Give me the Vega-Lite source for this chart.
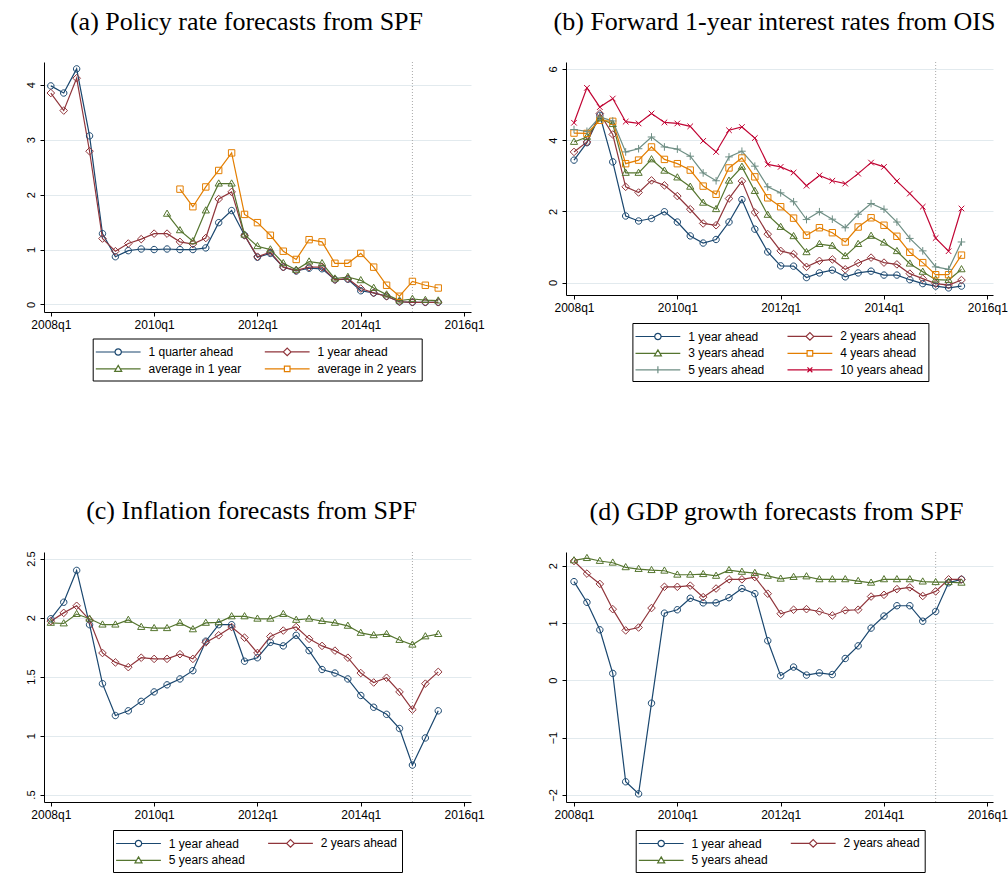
{
"$schema": "https://vega.github.io/schema/vega-lite/v6.json",
"background": "white",
"padding": {"left": 25, "top": 8, "right": 0, "bottom": 0},
"columns": 2,
"spacing": {"row": 240, "column": 95},
"bounds": "flush",
"resolve": {"scale": {"color": "independent"}},
"concat": [
{
"title": {"text": "(a) Policy rate forecasts from SPF", "dx": -11},
"width": 427, "height": 250,
"layer": [
{"data": {"values": [{"t": 2015}]}, "mark": {"type": "rule", "color": "#aaaaaa", "strokeDash": [1, 2], "strokeWidth": 1},
 "encoding": {"x": {"field": "t", "type": "quantitative"}}},
{"data": {"name": "a"}, "mark": {"type": "line", "strokeWidth": 1.2},
 "encoding": {
  "x": {"field": "t", "type": "quantitative", "scale": {"domain": [2007.868, 2016.134], "nice": false, "zero": false}, "axis": {"title": null, "values": [2008, 2010, 2012, 2014, 2016], "labelExpr": "datum.value + 'q1'"}},
  "y": {"field": "v", "type": "quantitative", "scale": {"domain": [-0.137, 4.415], "nice": false, "zero": false}, "axis": {"title": null, "values": [0, 1, 2, 3, 4], "format": "~g"}},
  "color": {"field": "s", "type": "nominal", "scale": {"domain": ["1 quarter ahead", "1 year ahead", "average in 1 year", "average in 2 years"], "range": ["#1a476f", "#90353b", "#55752f", "#e37e00"]},
   "legend": {"title": null, "orient": "none", "legendX": 48.7, "legendY": 276.5, "direction": "horizontal", "columns": 2,
    "encode": {"symbols": {"update": {"shape": {"signal": "['M-3.2,0L-0.45,0M0.45,0L3.2,0M0.45,0A0.45,0.45,0,1,1,-0.45,0A0.45,0.45,0,1,1,0.45,0','M-3.2,0L-0.55,0M0.55,0L3.2,0M-0.55,0L0,-0.55L0.55,0L0,0.55Z','M-3.2,0L-0.3,0M0.3,0L3.2,0M0,-0.5L0.5,0.35L-0.5,0.35Z','M-3.2,0L-0.4,0M0.4,0L3.2,0M-0.4,-0.4L0.4,-0.4L0.4,0.4L-0.4,0.4Z','M-3.2,0L3.2,0M0,-0.5L0,0.5','M-3.2,0L3.2,0M-0.35,-0.35L0.35,0.35M-0.35,0.35L0.35,-0.35'][datum.index]"}, "fill": {"value": "transparent"}}}}}}
 }},
{"data": {"name": "a"}, "transform": [{"filter": {"field": "s", "equal": "1 quarter ahead"}}], "mark": {"type": "point", "shape": "M0.8,0A0.8,0.8,0,1,1,-0.8,0A0.8,0.8,0,1,1,0.8,0Z", "filled": false, "size": 64, "strokeWidth": 1, "opacity": 1},
 "encoding": {"x": {"field": "t", "type": "quantitative"}, "y": {"field": "v", "type": "quantitative"}, "color": {"field": "s", "type": "nominal"}}},
{"data": {"name": "a"}, "transform": [{"filter": {"field": "s", "equal": "1 year ahead"}}], "mark": {"type": "point", "shape": "M0,-0.95L0.95,0L0,0.95L-0.95,0Z", "filled": false, "size": 64, "strokeWidth": 1, "opacity": 1},
 "encoding": {"x": {"field": "t", "type": "quantitative"}, "y": {"field": "v", "type": "quantitative"}, "color": {"field": "s", "type": "nominal"}}},
{"data": {"name": "a"}, "transform": [{"filter": {"field": "s", "equal": "average in 1 year"}}], "mark": {"type": "point", "shape": "M0,-0.95L0.9,0.6L-0.9,0.6Z", "filled": false, "size": 64, "strokeWidth": 1, "opacity": 1},
 "encoding": {"x": {"field": "t", "type": "quantitative"}, "y": {"field": "v", "type": "quantitative"}, "color": {"field": "s", "type": "nominal"}}},
{"data": {"name": "a"}, "transform": [{"filter": {"field": "s", "equal": "average in 2 years"}}], "mark": {"type": "point", "shape": "M-0.8,-0.8L0.8,-0.8L0.8,0.8L-0.8,0.8Z", "filled": false, "size": 64, "strokeWidth": 1, "opacity": 1},
 "encoding": {"x": {"field": "t", "type": "quantitative"}, "y": {"field": "v", "type": "quantitative"}, "color": {"field": "s", "type": "nominal"}}}
]
},
{
"title": {"text": "(b) Forward 1-year interest rates from OIS", "dx": -5},
"width": 427, "height": 233,
"layer": [
{"data": {"values": [{"t": 2015}]}, "mark": {"type": "rule", "color": "#aaaaaa", "strokeDash": [1, 2], "strokeWidth": 1},
 "encoding": {"x": {"field": "t", "type": "quantitative"}}},
{"data": {"name": "b"}, "mark": {"type": "line", "strokeWidth": 1.2},
 "encoding": {
  "x": {"field": "t", "type": "quantitative", "scale": {"domain": [2007.845, 2016.11], "nice": false, "zero": false}, "axis": {"title": null, "values": [2008, 2010, 2012, 2014, 2016], "labelExpr": "datum.value + 'q1'"}},
  "y": {"field": "v", "type": "quantitative", "scale": {"domain": [-0.35, 6.197], "nice": false, "zero": false}, "axis": {"title": null, "values": [0, 2, 4, 6], "format": "~g"}},
  "color": {"field": "s", "type": "nominal", "scale": {"domain": ["1 year ahead", "2 years ahead", "3 years ahead", "4 years ahead", "5 years ahead", "10 years ahead"], "range": ["#1a476f", "#90353b", "#55752f", "#e37e00", "#6e8e84", "#c10534"]},
   "legend": {"title": null, "orient": "none", "legendX": 66.4, "legendY": 261, "direction": "horizontal", "columns": 2,
    "encode": {"symbols": {"update": {"shape": {"signal": "['M-3.2,0L-0.45,0M0.45,0L3.2,0M0.45,0A0.45,0.45,0,1,1,-0.45,0A0.45,0.45,0,1,1,0.45,0','M-3.2,0L-0.55,0M0.55,0L3.2,0M-0.55,0L0,-0.55L0.55,0L0,0.55Z','M-3.2,0L-0.3,0M0.3,0L3.2,0M0,-0.5L0.5,0.35L-0.5,0.35Z','M-3.2,0L-0.4,0M0.4,0L3.2,0M-0.4,-0.4L0.4,-0.4L0.4,0.4L-0.4,0.4Z','M-3.2,0L3.2,0M0,-0.5L0,0.5','M-3.2,0L3.2,0M-0.35,-0.35L0.35,0.35M-0.35,0.35L0.35,-0.35'][datum.index]"}, "fill": {"value": "transparent"}}}}}}
 }},
{"data": {"name": "b"}, "transform": [{"filter": {"field": "s", "equal": "1 year ahead"}}], "mark": {"type": "point", "shape": "M0.8,0A0.8,0.8,0,1,1,-0.8,0A0.8,0.8,0,1,1,0.8,0Z", "filled": false, "size": 64, "strokeWidth": 1, "opacity": 1},
 "encoding": {"x": {"field": "t", "type": "quantitative"}, "y": {"field": "v", "type": "quantitative"}, "color": {"field": "s", "type": "nominal"}}},
{"data": {"name": "b"}, "transform": [{"filter": {"field": "s", "equal": "2 years ahead"}}], "mark": {"type": "point", "shape": "M0,-0.95L0.95,0L0,0.95L-0.95,0Z", "filled": false, "size": 64, "strokeWidth": 1, "opacity": 1},
 "encoding": {"x": {"field": "t", "type": "quantitative"}, "y": {"field": "v", "type": "quantitative"}, "color": {"field": "s", "type": "nominal"}}},
{"data": {"name": "b"}, "transform": [{"filter": {"field": "s", "equal": "3 years ahead"}}], "mark": {"type": "point", "shape": "M0,-0.95L0.9,0.6L-0.9,0.6Z", "filled": false, "size": 64, "strokeWidth": 1, "opacity": 1},
 "encoding": {"x": {"field": "t", "type": "quantitative"}, "y": {"field": "v", "type": "quantitative"}, "color": {"field": "s", "type": "nominal"}}},
{"data": {"name": "b"}, "transform": [{"filter": {"field": "s", "equal": "4 years ahead"}}], "mark": {"type": "point", "shape": "M-0.8,-0.8L0.8,-0.8L0.8,0.8L-0.8,0.8Z", "filled": false, "size": 64, "strokeWidth": 1, "opacity": 1},
 "encoding": {"x": {"field": "t", "type": "quantitative"}, "y": {"field": "v", "type": "quantitative"}, "color": {"field": "s", "type": "nominal"}}},
{"data": {"name": "b"}, "transform": [{"filter": {"field": "s", "equal": "5 years ahead"}}], "mark": {"type": "point", "shape": "M-0.95,0L0.95,0M0,-0.95L0,0.95", "filled": false, "size": 64, "strokeWidth": 1, "opacity": 1},
 "encoding": {"x": {"field": "t", "type": "quantitative"}, "y": {"field": "v", "type": "quantitative"}, "color": {"field": "s", "type": "nominal"}}},
{"data": {"name": "b"}, "transform": [{"filter": {"field": "s", "equal": "10 years ahead"}}], "mark": {"type": "point", "shape": "M-0.7,-0.7L0.7,0.7M-0.7,0.7L0.7,-0.7", "filled": false, "size": 64, "strokeWidth": 1, "opacity": 1},
 "encoding": {"x": {"field": "t", "type": "quantitative"}, "y": {"field": "v", "type": "quantitative"}, "color": {"field": "s", "type": "nominal"}}}
]
},
{
"title": {"text": "(c) Inflation forecasts from SPF", "dx": -6},
"width": 427, "height": 250,
"layer": [
{"data": {"values": [{"t": 2015}]}, "mark": {"type": "rule", "color": "#aaaaaa", "strokeDash": [1, 2], "strokeWidth": 1},
 "encoding": {"x": {"field": "t", "type": "quantitative"}}},
{"data": {"name": "c"}, "mark": {"type": "line", "strokeWidth": 1.2},
 "encoding": {
  "x": {"field": "t", "type": "quantitative", "scale": {"domain": [2007.868, 2016.134], "nice": false, "zero": false}, "axis": {"title": null, "values": [2008, 2010, 2012, 2014, 2016], "labelExpr": "datum.value + 'q1'"}},
  "y": {"field": "v", "type": "quantitative", "scale": {"domain": [0.437, 2.556], "nice": false, "zero": false}, "axis": {"title": null, "values": [0.5, 1, 1.5, 2, 2.5], "format": "~g", "labelExpr": "datum.value == 0.5 ? '.5' : datum.label"}},
  "color": {"field": "s", "type": "nominal", "scale": {"domain": ["1 year ahead", "2 years ahead", "5 years ahead"], "range": ["#1a476f", "#90353b", "#55752f"]},
   "legend": {"title": null, "orient": "none", "legendX": 69, "legendY": 278, "direction": "horizontal", "columns": 2,
    "encode": {"symbols": {"update": {"shape": {"signal": "['M-3.2,0L-0.45,0M0.45,0L3.2,0M0.45,0A0.45,0.45,0,1,1,-0.45,0A0.45,0.45,0,1,1,0.45,0','M-3.2,0L-0.55,0M0.55,0L3.2,0M-0.55,0L0,-0.55L0.55,0L0,0.55Z','M-3.2,0L-0.3,0M0.3,0L3.2,0M0,-0.5L0.5,0.35L-0.5,0.35Z'][datum.index]"}, "fill": {"value": "transparent"}}}}}}
 }},
{"data": {"name": "c"}, "transform": [{"filter": {"field": "s", "equal": "1 year ahead"}}], "mark": {"type": "point", "shape": "M0.8,0A0.8,0.8,0,1,1,-0.8,0A0.8,0.8,0,1,1,0.8,0Z", "filled": false, "size": 64, "strokeWidth": 1, "opacity": 1},
 "encoding": {"x": {"field": "t", "type": "quantitative"}, "y": {"field": "v", "type": "quantitative"}, "color": {"field": "s", "type": "nominal"}}},
{"data": {"name": "c"}, "transform": [{"filter": {"field": "s", "equal": "2 years ahead"}}], "mark": {"type": "point", "shape": "M0,-0.95L0.95,0L0,0.95L-0.95,0Z", "filled": false, "size": 64, "strokeWidth": 1, "opacity": 1},
 "encoding": {"x": {"field": "t", "type": "quantitative"}, "y": {"field": "v", "type": "quantitative"}, "color": {"field": "s", "type": "nominal"}}},
{"data": {"name": "c"}, "transform": [{"filter": {"field": "s", "equal": "5 years ahead"}}], "mark": {"type": "point", "shape": "M0,-0.95L0.9,0.6L-0.9,0.6Z", "filled": false, "size": 64, "strokeWidth": 1, "opacity": 1},
 "encoding": {"x": {"field": "t", "type": "quantitative"}, "y": {"field": "v", "type": "quantitative"}, "color": {"field": "s", "type": "nominal"}}}
]
},
{
"title": {"text": "(d) GDP growth forecasts from SPF", "dx": -3},
"width": 427, "height": 250,
"layer": [
{"data": {"values": [{"t": 2015}]}, "mark": {"type": "rule", "color": "#aaaaaa", "strokeDash": [1, 2], "strokeWidth": 1},
 "encoding": {"x": {"field": "t", "type": "quantitative"}}},
{"data": {"name": "d"}, "mark": {"type": "line", "strokeWidth": 1.2},
 "encoding": {
  "x": {"field": "t", "type": "quantitative", "scale": {"domain": [2007.845, 2016.11], "nice": false, "zero": false}, "axis": {"title": null, "values": [2008, 2010, 2012, 2014, 2016], "labelExpr": "datum.value + 'q1'"}},
  "y": {"field": "v", "type": "quantitative", "scale": {"domain": [-2.123, 2.237], "nice": false, "zero": false}, "axis": {"title": null, "values": [-2, -1, 0, 1, 2], "format": "~g"}},
  "color": {"field": "s", "type": "nominal", "scale": {"domain": ["1 year ahead", "2 years ahead", "5 years ahead"], "range": ["#1a476f", "#90353b", "#55752f"]},
   "legend": {"title": null, "orient": "none", "legendX": 69.7, "legendY": 278, "direction": "horizontal", "columns": 2,
    "encode": {"symbols": {"update": {"shape": {"signal": "['M-3.2,0L-0.45,0M0.45,0L3.2,0M0.45,0A0.45,0.45,0,1,1,-0.45,0A0.45,0.45,0,1,1,0.45,0','M-3.2,0L-0.55,0M0.55,0L3.2,0M-0.55,0L0,-0.55L0.55,0L0,0.55Z','M-3.2,0L-0.3,0M0.3,0L3.2,0M0,-0.5L0.5,0.35L-0.5,0.35Z'][datum.index]"}, "fill": {"value": "transparent"}}}}}}
 }},
{"data": {"name": "d"}, "transform": [{"filter": {"field": "s", "equal": "1 year ahead"}}], "mark": {"type": "point", "shape": "M0.8,0A0.8,0.8,0,1,1,-0.8,0A0.8,0.8,0,1,1,0.8,0Z", "filled": false, "size": 64, "strokeWidth": 1, "opacity": 1},
 "encoding": {"x": {"field": "t", "type": "quantitative"}, "y": {"field": "v", "type": "quantitative"}, "color": {"field": "s", "type": "nominal"}}},
{"data": {"name": "d"}, "transform": [{"filter": {"field": "s", "equal": "2 years ahead"}}], "mark": {"type": "point", "shape": "M0,-0.95L0.95,0L0,0.95L-0.95,0Z", "filled": false, "size": 64, "strokeWidth": 1, "opacity": 1},
 "encoding": {"x": {"field": "t", "type": "quantitative"}, "y": {"field": "v", "type": "quantitative"}, "color": {"field": "s", "type": "nominal"}}},
{"data": {"name": "d"}, "transform": [{"filter": {"field": "s", "equal": "5 years ahead"}}], "mark": {"type": "point", "shape": "M0,-0.95L0.9,0.6L-0.9,0.6Z", "filled": false, "size": 64, "strokeWidth": 1, "opacity": 1},
 "encoding": {"x": {"field": "t", "type": "quantitative"}, "y": {"field": "v", "type": "quantitative"}, "color": {"field": "s", "type": "nominal"}}}
]
}
],
"datasets": {
"a": [
{"t":2008,"s":"1 quarter ahead","v":3.98},{"t":2008.25,"s":"1 quarter ahead","v":3.85},{"t":2008.5,"s":"1 quarter ahead","v":4.29},{"t":2008.75,"s":"1 quarter ahead","v":3.07},
{"t":2009,"s":"1 quarter ahead","v":1.29},{"t":2009.25,"s":"1 quarter ahead","v":0.87},{"t":2009.5,"s":"1 quarter ahead","v":0.98},{"t":2009.75,"s":"1 quarter ahead","v":1.01},
{"t":2010,"s":"1 quarter ahead","v":1.00},{"t":2010.25,"s":"1 quarter ahead","v":1.01},{"t":2010.5,"s":"1 quarter ahead","v":1.00},{"t":2010.75,"s":"1 quarter ahead","v":1.00},
{"t":2011,"s":"1 quarter ahead","v":1.03},{"t":2011.25,"s":"1 quarter ahead","v":1.49},{"t":2011.5,"s":"1 quarter ahead","v":1.71},{"t":2011.75,"s":"1 quarter ahead","v":1.26},
{"t":2012,"s":"1 quarter ahead","v":0.86},{"t":2012.25,"s":"1 quarter ahead","v":0.93},{"t":2012.5,"s":"1 quarter ahead","v":0.68},{"t":2012.75,"s":"1 quarter ahead","v":0.61},
{"t":2013,"s":"1 quarter ahead","v":0.66},{"t":2013.25,"s":"1 quarter ahead","v":0.65},{"t":2013.5,"s":"1 quarter ahead","v":0.45},{"t":2013.75,"s":"1 quarter ahead","v":0.46},
{"t":2014,"s":"1 quarter ahead","v":0.25},{"t":2014.25,"s":"1 quarter ahead","v":0.21},{"t":2014.5,"s":"1 quarter ahead","v":0.15},{"t":2014.75,"s":"1 quarter ahead","v":0.05},
{"t":2015,"s":"1 quarter ahead","v":0.04},{"t":2015.25,"s":"1 quarter ahead","v":0.04},{"t":2015.5,"s":"1 quarter ahead","v":0.04},
{"t":2008,"s":"1 year ahead","v":3.85},{"t":2008.25,"s":"1 year ahead","v":3.53},{"t":2008.5,"s":"1 year ahead","v":4.12},{"t":2008.75,"s":"1 year ahead","v":2.79},
{"t":2009,"s":"1 year ahead","v":1.20},{"t":2009.25,"s":"1 year ahead","v":0.97},{"t":2009.5,"s":"1 year ahead","v":1.11},{"t":2009.75,"s":"1 year ahead","v":1.19},
{"t":2010,"s":"1 year ahead","v":1.29},{"t":2010.25,"s":"1 year ahead","v":1.29},{"t":2010.5,"s":"1 year ahead","v":1.14},{"t":2010.75,"s":"1 year ahead","v":1.10},
{"t":2011,"s":"1 year ahead","v":1.21},{"t":2011.25,"s":"1 year ahead","v":1.92},{"t":2011.5,"s":"1 year ahead","v":2.05},{"t":2011.75,"s":"1 year ahead","v":1.26},
{"t":2012,"s":"1 year ahead","v":0.87},{"t":2012.25,"s":"1 year ahead","v":0.95},{"t":2012.5,"s":"1 year ahead","v":0.68},{"t":2012.75,"s":"1 year ahead","v":0.62},
{"t":2013,"s":"1 year ahead","v":0.68},{"t":2013.25,"s":"1 year ahead","v":0.68},{"t":2013.5,"s":"1 year ahead","v":0.45},{"t":2013.75,"s":"1 year ahead","v":0.47},
{"t":2014,"s":"1 year ahead","v":0.29},{"t":2014.25,"s":"1 year ahead","v":0.21},{"t":2014.5,"s":"1 year ahead","v":0.15},{"t":2014.75,"s":"1 year ahead","v":0.05},
{"t":2015,"s":"1 year ahead","v":0.04},{"t":2015.25,"s":"1 year ahead","v":0.04},{"t":2015.5,"s":"1 year ahead","v":0.04},
{"t":2010.25,"s":"average in 1 year","v":1.65},{"t":2010.5,"s":"average in 1 year","v":1.35},{"t":2010.75,"s":"average in 1 year","v":1.15},
{"t":2011,"s":"average in 1 year","v":1.71},{"t":2011.25,"s":"average in 1 year","v":2.20},{"t":2011.5,"s":"average in 1 year","v":2.20},{"t":2011.75,"s":"average in 1 year","v":1.27},
{"t":2012,"s":"average in 1 year","v":1.06},{"t":2012.25,"s":"average in 1 year","v":1.00},{"t":2012.5,"s":"average in 1 year","v":0.75},{"t":2012.75,"s":"average in 1 year","v":0.63},
{"t":2013,"s":"average in 1 year","v":0.78},{"t":2013.25,"s":"average in 1 year","v":0.75},{"t":2013.5,"s":"average in 1 year","v":0.47},{"t":2013.75,"s":"average in 1 year","v":0.50},
{"t":2014,"s":"average in 1 year","v":0.44},{"t":2014.25,"s":"average in 1 year","v":0.30},{"t":2014.5,"s":"average in 1 year","v":0.18},{"t":2014.75,"s":"average in 1 year","v":0.07},
{"t":2015,"s":"average in 1 year","v":0.10},{"t":2015.25,"s":"average in 1 year","v":0.08},{"t":2015.5,"s":"average in 1 year","v":0.07},
{"t":2010.5,"s":"average in 2 years","v":2.10},{"t":2010.75,"s":"average in 2 years","v":1.78},
{"t":2011,"s":"average in 2 years","v":2.14},{"t":2011.25,"s":"average in 2 years","v":2.44},{"t":2011.5,"s":"average in 2 years","v":2.76},{"t":2011.75,"s":"average in 2 years","v":1.64},
{"t":2012,"s":"average in 2 years","v":1.49},{"t":2012.25,"s":"average in 2 years","v":1.26},{"t":2012.5,"s":"average in 2 years","v":0.97},{"t":2012.75,"s":"average in 2 years","v":0.82},
{"t":2013,"s":"average in 2 years","v":1.18},{"t":2013.25,"s":"average in 2 years","v":1.14},{"t":2013.5,"s":"average in 2 years","v":0.75},{"t":2013.75,"s":"average in 2 years","v":0.75},
{"t":2014,"s":"average in 2 years","v":0.93},{"t":2014.25,"s":"average in 2 years","v":0.68},{"t":2014.5,"s":"average in 2 years","v":0.35},{"t":2014.75,"s":"average in 2 years","v":0.15},
{"t":2015,"s":"average in 2 years","v":0.42},{"t":2015.25,"s":"average in 2 years","v":0.35},{"t":2015.5,"s":"average in 2 years","v":0.30}
],
"b": [
{"t":2008,"s":"1 year ahead","v":3.44},{"t":2008.25,"s":"1 year ahead","v":3.93},{"t":2008.5,"s":"1 year ahead","v":4.70},{"t":2008.75,"s":"1 year ahead","v":3.39},
{"t":2009,"s":"1 year ahead","v":1.87},{"t":2009.25,"s":"1 year ahead","v":1.73},{"t":2009.5,"s":"1 year ahead","v":1.80},{"t":2009.75,"s":"1 year ahead","v":1.99},
{"t":2010,"s":"1 year ahead","v":1.70},{"t":2010.25,"s":"1 year ahead","v":1.31},{"t":2010.5,"s":"1 year ahead","v":1.11},{"t":2010.75,"s":"1 year ahead","v":1.21},
{"t":2011,"s":"1 year ahead","v":1.70},{"t":2011.25,"s":"1 year ahead","v":2.33},{"t":2011.5,"s":"1 year ahead","v":1.50},{"t":2011.75,"s":"1 year ahead","v":0.86},
{"t":2012,"s":"1 year ahead","v":0.47},{"t":2012.25,"s":"1 year ahead","v":0.46},{"t":2012.5,"s":"1 year ahead","v":0.14},{"t":2012.75,"s":"1 year ahead","v":0.27},
{"t":2013,"s":"1 year ahead","v":0.35},{"t":2013.25,"s":"1 year ahead","v":0.16},{"t":2013.5,"s":"1 year ahead","v":0.27},{"t":2013.75,"s":"1 year ahead","v":0.32},
{"t":2014,"s":"1 year ahead","v":0.21},{"t":2014.25,"s":"1 year ahead","v":0.21},{"t":2014.5,"s":"1 year ahead","v":0.08},{"t":2014.75,"s":"1 year ahead","v":-0.03},
{"t":2015,"s":"1 year ahead","v":-0.10},{"t":2015.25,"s":"1 year ahead","v":-0.15},{"t":2015.5,"s":"1 year ahead","v":-0.10},
{"t":2008,"s":"2 years ahead","v":3.67},{"t":2008.25,"s":"2 years ahead","v":3.95},{"t":2008.5,"s":"2 years ahead","v":4.75},{"t":2008.75,"s":"2 years ahead","v":4.16},
{"t":2009,"s":"2 years ahead","v":2.69},{"t":2009.25,"s":"2 years ahead","v":2.53},{"t":2009.5,"s":"2 years ahead","v":2.87},{"t":2009.75,"s":"2 years ahead","v":2.73},
{"t":2010,"s":"2 years ahead","v":2.43},{"t":2010.25,"s":"2 years ahead","v":2.06},{"t":2010.5,"s":"2 years ahead","v":1.66},{"t":2010.75,"s":"2 years ahead","v":1.61},
{"t":2011,"s":"2 years ahead","v":2.36},{"t":2011.25,"s":"2 years ahead","v":2.85},{"t":2011.5,"s":"2 years ahead","v":1.97},{"t":2011.75,"s":"2 years ahead","v":1.36},
{"t":2012,"s":"2 years ahead","v":0.89},{"t":2012.25,"s":"2 years ahead","v":0.80},{"t":2012.5,"s":"2 years ahead","v":0.44},{"t":2012.75,"s":"2 years ahead","v":0.61},
{"t":2013,"s":"2 years ahead","v":0.65},{"t":2013.25,"s":"2 years ahead","v":0.37},{"t":2013.5,"s":"2 years ahead","v":0.55},{"t":2013.75,"s":"2 years ahead","v":0.70},
{"t":2014,"s":"2 years ahead","v":0.56},{"t":2014.25,"s":"2 years ahead","v":0.51},{"t":2014.5,"s":"2 years ahead","v":0.25},{"t":2014.75,"s":"2 years ahead","v":0.11},
{"t":2015,"s":"2 years ahead","v":-0.03},{"t":2015.25,"s":"2 years ahead","v":-0.07},{"t":2015.5,"s":"2 years ahead","v":0.07},
{"t":2008,"s":"3 years ahead","v":3.95},{"t":2008.25,"s":"3 years ahead","v":4.09},{"t":2008.5,"s":"3 years ahead","v":4.61},{"t":2008.75,"s":"3 years ahead","v":4.45},
{"t":2009,"s":"3 years ahead","v":3.08},{"t":2009.25,"s":"3 years ahead","v":3.08},{"t":2009.5,"s":"3 years ahead","v":3.46},{"t":2009.75,"s":"3 years ahead","v":3.14},
{"t":2010,"s":"3 years ahead","v":2.95},{"t":2010.25,"s":"3 years ahead","v":2.69},{"t":2010.5,"s":"3 years ahead","v":2.24},{"t":2010.75,"s":"3 years ahead","v":2.06},
{"t":2011,"s":"3 years ahead","v":2.86},{"t":2011.25,"s":"3 years ahead","v":3.25},{"t":2011.5,"s":"3 years ahead","v":2.57},{"t":2011.75,"s":"3 years ahead","v":1.90},
{"t":2012,"s":"3 years ahead","v":1.56},{"t":2012.25,"s":"3 years ahead","v":1.30},{"t":2012.5,"s":"3 years ahead","v":0.85},{"t":2012.75,"s":"3 years ahead","v":1.08},
{"t":2013,"s":"3 years ahead","v":1.03},{"t":2013.25,"s":"3 years ahead","v":0.74},{"t":2013.5,"s":"3 years ahead","v":1.08},{"t":2013.75,"s":"3 years ahead","v":1.31},
{"t":2014,"s":"3 years ahead","v":1.12},{"t":2014.25,"s":"3 years ahead","v":0.88},{"t":2014.5,"s":"3 years ahead","v":0.53},{"t":2014.75,"s":"3 years ahead","v":0.30},
{"t":2015,"s":"3 years ahead","v":0.08},{"t":2015.25,"s":"3 years ahead","v":0.07},{"t":2015.5,"s":"3 years ahead","v":0.37},
{"t":2008,"s":"4 years ahead","v":4.20},{"t":2008.25,"s":"4 years ahead","v":4.19},{"t":2008.5,"s":"4 years ahead","v":4.56},{"t":2008.75,"s":"4 years ahead","v":4.53},
{"t":2009,"s":"4 years ahead","v":3.34},{"t":2009.25,"s":"4 years ahead","v":3.44},{"t":2009.5,"s":"4 years ahead","v":3.81},{"t":2009.75,"s":"4 years ahead","v":3.46},
{"t":2010,"s":"4 years ahead","v":3.34},{"t":2010.25,"s":"4 years ahead","v":3.16},{"t":2010.5,"s":"4 years ahead","v":2.71},{"t":2010.75,"s":"4 years ahead","v":2.48},
{"t":2011,"s":"4 years ahead","v":3.22},{"t":2011.25,"s":"4 years ahead","v":3.50},{"t":2011.5,"s":"4 years ahead","v":2.97},{"t":2011.75,"s":"4 years ahead","v":2.38},
{"t":2012,"s":"4 years ahead","v":2.13},{"t":2012.25,"s":"4 years ahead","v":1.81},{"t":2012.5,"s":"4 years ahead","v":1.33},{"t":2012.75,"s":"4 years ahead","v":1.54},
{"t":2013,"s":"4 years ahead","v":1.40},{"t":2013.25,"s":"4 years ahead","v":1.14},{"t":2013.5,"s":"4 years ahead","v":1.56},{"t":2013.75,"s":"4 years ahead","v":1.82},
{"t":2014,"s":"4 years ahead","v":1.61},{"t":2014.25,"s":"4 years ahead","v":1.30},{"t":2014.5,"s":"4 years ahead","v":0.85},{"t":2014.75,"s":"4 years ahead","v":0.56},
{"t":2015,"s":"4 years ahead","v":0.22},{"t":2015.25,"s":"4 years ahead","v":0.22},{"t":2015.5,"s":"4 years ahead","v":0.77},
{"t":2008,"s":"5 years ahead","v":4.30},{"t":2008.25,"s":"5 years ahead","v":4.25},{"t":2008.5,"s":"5 years ahead","v":4.65},{"t":2008.75,"s":"5 years ahead","v":4.54},
{"t":2009,"s":"5 years ahead","v":3.67},{"t":2009.25,"s":"5 years ahead","v":3.76},{"t":2009.5,"s":"5 years ahead","v":4.09},{"t":2009.75,"s":"5 years ahead","v":3.81},
{"t":2010,"s":"5 years ahead","v":3.75},{"t":2010.25,"s":"5 years ahead","v":3.55},{"t":2010.5,"s":"5 years ahead","v":3.08},{"t":2010.75,"s":"5 years ahead","v":2.86},
{"t":2011,"s":"5 years ahead","v":3.53},{"t":2011.25,"s":"5 years ahead","v":3.69},{"t":2011.5,"s":"5 years ahead","v":3.27},{"t":2011.75,"s":"5 years ahead","v":2.69},
{"t":2012,"s":"5 years ahead","v":2.52},{"t":2012.25,"s":"5 years ahead","v":2.27},{"t":2012.5,"s":"5 years ahead","v":1.77},{"t":2012.75,"s":"5 years ahead","v":1.99},
{"t":2013,"s":"5 years ahead","v":1.78},{"t":2013.25,"s":"5 years ahead","v":1.54},{"t":2013.5,"s":"5 years ahead","v":1.92},{"t":2013.75,"s":"5 years ahead","v":2.22},
{"t":2014,"s":"5 years ahead","v":2.06},{"t":2014.25,"s":"5 years ahead","v":1.70},{"t":2014.5,"s":"5 years ahead","v":1.24},{"t":2014.75,"s":"5 years ahead","v":0.89},
{"t":2015,"s":"5 years ahead","v":0.44},{"t":2015.25,"s":"5 years ahead","v":0.37},{"t":2015.5,"s":"5 years ahead","v":1.14},
{"t":2008,"s":"10 years ahead","v":4.49},{"t":2008.25,"s":"10 years ahead","v":5.47},{"t":2008.5,"s":"10 years ahead","v":4.93},{"t":2008.75,"s":"10 years ahead","v":5.17},
{"t":2009,"s":"10 years ahead","v":4.52},{"t":2009.25,"s":"10 years ahead","v":4.47},{"t":2009.5,"s":"10 years ahead","v":4.75},{"t":2009.75,"s":"10 years ahead","v":4.50},
{"t":2010,"s":"10 years ahead","v":4.47},{"t":2010.25,"s":"10 years ahead","v":4.39},{"t":2010.5,"s":"10 years ahead","v":3.98},{"t":2010.75,"s":"10 years ahead","v":3.67},
{"t":2011,"s":"10 years ahead","v":4.28},{"t":2011.25,"s":"10 years ahead","v":4.37},{"t":2011.5,"s":"10 years ahead","v":4.06},{"t":2011.75,"s":"10 years ahead","v":3.32},
{"t":2012,"s":"10 years ahead","v":3.25},{"t":2012.25,"s":"10 years ahead","v":3.09},{"t":2012.5,"s":"10 years ahead","v":2.72},{"t":2012.75,"s":"10 years ahead","v":3.01},
{"t":2013,"s":"10 years ahead","v":2.86},{"t":2013.25,"s":"10 years ahead","v":2.78},{"t":2013.5,"s":"10 years ahead","v":3.06},{"t":2013.75,"s":"10 years ahead","v":3.37},
{"t":2014,"s":"10 years ahead","v":3.25},{"t":2014.25,"s":"10 years ahead","v":2.85},{"t":2014.5,"s":"10 years ahead","v":2.50},{"t":2014.75,"s":"10 years ahead","v":2.13},
{"t":2015,"s":"10 years ahead","v":1.25},{"t":2015.25,"s":"10 years ahead","v":0.88},{"t":2015.5,"s":"10 years ahead","v":2.08}
],
"c": [
{"t":2008,"s":"1 year ahead","v":1.99},{"t":2008.25,"s":"1 year ahead","v":2.13},{"t":2008.5,"s":"1 year ahead","v":2.40},{"t":2008.75,"s":"1 year ahead","v":1.94},
{"t":2009,"s":"1 year ahead","v":1.44},{"t":2009.25,"s":"1 year ahead","v":1.17},{"t":2009.5,"s":"1 year ahead","v":1.21},{"t":2009.75,"s":"1 year ahead","v":1.29},
{"t":2010,"s":"1 year ahead","v":1.37},{"t":2010.25,"s":"1 year ahead","v":1.43},{"t":2010.5,"s":"1 year ahead","v":1.48},{"t":2010.75,"s":"1 year ahead","v":1.55},
{"t":2011,"s":"1 year ahead","v":1.80},{"t":2011.25,"s":"1 year ahead","v":1.94},{"t":2011.5,"s":"1 year ahead","v":1.94},{"t":2011.75,"s":"1 year ahead","v":1.63},
{"t":2012,"s":"1 year ahead","v":1.66},{"t":2012.25,"s":"1 year ahead","v":1.79},{"t":2012.5,"s":"1 year ahead","v":1.76},{"t":2012.75,"s":"1 year ahead","v":1.85},
{"t":2013,"s":"1 year ahead","v":1.72},{"t":2013.25,"s":"1 year ahead","v":1.56},{"t":2013.5,"s":"1 year ahead","v":1.53},{"t":2013.75,"s":"1 year ahead","v":1.48},
{"t":2014,"s":"1 year ahead","v":1.34},{"t":2014.25,"s":"1 year ahead","v":1.24},{"t":2014.5,"s":"1 year ahead","v":1.18},{"t":2014.75,"s":"1 year ahead","v":1.06},
{"t":2015,"s":"1 year ahead","v":0.75},{"t":2015.25,"s":"1 year ahead","v":0.98},{"t":2015.5,"s":"1 year ahead","v":1.21},
{"t":2008,"s":"2 years ahead","v":1.97},{"t":2008.25,"s":"2 years ahead","v":2.04},{"t":2008.5,"s":"2 years ahead","v":2.10},{"t":2008.75,"s":"2 years ahead","v":1.98},
{"t":2009,"s":"2 years ahead","v":1.70},{"t":2009.25,"s":"2 years ahead","v":1.62},{"t":2009.5,"s":"2 years ahead","v":1.58},{"t":2009.75,"s":"2 years ahead","v":1.66},
{"t":2010,"s":"2 years ahead","v":1.65},{"t":2010.25,"s":"2 years ahead","v":1.65},{"t":2010.5,"s":"2 years ahead","v":1.69},{"t":2010.75,"s":"2 years ahead","v":1.65},
{"t":2011,"s":"2 years ahead","v":1.79},{"t":2011.25,"s":"2 years ahead","v":1.85},{"t":2011.5,"s":"2 years ahead","v":1.92},{"t":2011.75,"s":"2 years ahead","v":1.83},
{"t":2012,"s":"2 years ahead","v":1.70},{"t":2012.25,"s":"2 years ahead","v":1.84},{"t":2012.5,"s":"2 years ahead","v":1.89},{"t":2012.75,"s":"2 years ahead","v":1.92},
{"t":2013,"s":"2 years ahead","v":1.82},{"t":2013.25,"s":"2 years ahead","v":1.76},{"t":2013.5,"s":"2 years ahead","v":1.72},{"t":2013.75,"s":"2 years ahead","v":1.66},
{"t":2014,"s":"2 years ahead","v":1.53},{"t":2014.25,"s":"2 years ahead","v":1.45},{"t":2014.5,"s":"2 years ahead","v":1.49},{"t":2014.75,"s":"2 years ahead","v":1.37},
{"t":2015,"s":"2 years ahead","v":1.22},{"t":2015.25,"s":"2 years ahead","v":1.44},{"t":2015.5,"s":"2 years ahead","v":1.54},
{"t":2008,"s":"5 years ahead","v":1.955},{"t":2008.25,"s":"5 years ahead","v":1.95},{"t":2008.5,"s":"5 years ahead","v":2.03},{"t":2008.75,"s":"5 years ahead","v":1.99},
{"t":2009,"s":"5 years ahead","v":1.94},{"t":2009.25,"s":"5 years ahead","v":1.94},{"t":2009.5,"s":"5 years ahead","v":1.98},{"t":2009.75,"s":"5 years ahead","v":1.92},
{"t":2010,"s":"5 years ahead","v":1.91},{"t":2010.25,"s":"5 years ahead","v":1.91},{"t":2010.5,"s":"5 years ahead","v":1.955},{"t":2010.75,"s":"5 years ahead","v":1.90},
{"t":2011,"s":"5 years ahead","v":1.955},{"t":2011.25,"s":"5 years ahead","v":1.96},{"t":2011.5,"s":"5 years ahead","v":2.01},{"t":2011.75,"s":"5 years ahead","v":2.01},
{"t":2012,"s":"5 years ahead","v":1.99},{"t":2012.25,"s":"5 years ahead","v":1.99},{"t":2012.5,"s":"5 years ahead","v":2.03},{"t":2012.75,"s":"5 years ahead","v":1.98},
{"t":2013,"s":"5 years ahead","v":1.99},{"t":2013.25,"s":"5 years ahead","v":1.97},{"t":2013.5,"s":"5 years ahead","v":1.955},{"t":2013.75,"s":"5 years ahead","v":1.93},
{"t":2014,"s":"5 years ahead","v":1.87},{"t":2014.25,"s":"5 years ahead","v":1.85},{"t":2014.5,"s":"5 years ahead","v":1.86},{"t":2014.75,"s":"5 years ahead","v":1.81},
{"t":2015,"s":"5 years ahead","v":1.77},{"t":2015.25,"s":"5 years ahead","v":1.84},{"t":2015.5,"s":"5 years ahead","v":1.86}
],
"d": [
{"t":2008,"s":"1 year ahead","v":1.72},{"t":2008.25,"s":"1 year ahead","v":1.36},{"t":2008.5,"s":"1 year ahead","v":0.88},{"t":2008.75,"s":"1 year ahead","v":0.12},
{"t":2009,"s":"1 year ahead","v":-1.77},{"t":2009.25,"s":"1 year ahead","v":-1.98},{"t":2009.5,"s":"1 year ahead","v":-0.40},{"t":2009.75,"s":"1 year ahead","v":1.17},
{"t":2010,"s":"1 year ahead","v":1.23},{"t":2010.25,"s":"1 year ahead","v":1.43},{"t":2010.5,"s":"1 year ahead","v":1.35},{"t":2010.75,"s":"1 year ahead","v":1.35},
{"t":2011,"s":"1 year ahead","v":1.44},{"t":2011.25,"s":"1 year ahead","v":1.60},{"t":2011.5,"s":"1 year ahead","v":1.51},{"t":2011.75,"s":"1 year ahead","v":0.69},
{"t":2012,"s":"1 year ahead","v":0.08},{"t":2012.25,"s":"1 year ahead","v":0.23},{"t":2012.5,"s":"1 year ahead","v":0.09},{"t":2012.75,"s":"1 year ahead","v":0.13},
{"t":2013,"s":"1 year ahead","v":0.10},{"t":2013.25,"s":"1 year ahead","v":0.38},{"t":2013.5,"s":"1 year ahead","v":0.60},{"t":2013.75,"s":"1 year ahead","v":0.91},
{"t":2014,"s":"1 year ahead","v":1.12},{"t":2014.25,"s":"1 year ahead","v":1.30},{"t":2014.5,"s":"1 year ahead","v":1.30},{"t":2014.75,"s":"1 year ahead","v":1.03},
{"t":2015,"s":"1 year ahead","v":1.20},{"t":2015.25,"s":"1 year ahead","v":1.70},{"t":2015.5,"s":"1 year ahead","v":1.76},
{"t":2008,"s":"2 years ahead","v":2.08},{"t":2008.25,"s":"2 years ahead","v":1.86},{"t":2008.5,"s":"2 years ahead","v":1.68},{"t":2008.75,"s":"2 years ahead","v":1.24},
{"t":2009,"s":"2 years ahead","v":0.87},{"t":2009.25,"s":"2 years ahead","v":0.92},{"t":2009.5,"s":"2 years ahead","v":1.26},{"t":2009.75,"s":"2 years ahead","v":1.63},
{"t":2010,"s":"2 years ahead","v":1.63},{"t":2010.25,"s":"2 years ahead","v":1.65},{"t":2010.5,"s":"2 years ahead","v":1.45},{"t":2010.75,"s":"2 years ahead","v":1.60},
{"t":2011,"s":"2 years ahead","v":1.76},{"t":2011.25,"s":"2 years ahead","v":1.76},{"t":2011.5,"s":"2 years ahead","v":1.80},{"t":2011.75,"s":"2 years ahead","v":1.51},
{"t":2012,"s":"2 years ahead","v":1.16},{"t":2012.25,"s":"2 years ahead","v":1.23},{"t":2012.5,"s":"2 years ahead","v":1.24},{"t":2012.75,"s":"2 years ahead","v":1.20},
{"t":2013,"s":"2 years ahead","v":1.13},{"t":2013.25,"s":"2 years ahead","v":1.22},{"t":2013.5,"s":"2 years ahead","v":1.23},{"t":2013.75,"s":"2 years ahead","v":1.46},
{"t":2014,"s":"2 years ahead","v":1.49},{"t":2014.25,"s":"2 years ahead","v":1.59},{"t":2014.5,"s":"2 years ahead","v":1.62},{"t":2014.75,"s":"2 years ahead","v":1.47},
{"t":2015,"s":"2 years ahead","v":1.55},{"t":2015.25,"s":"2 years ahead","v":1.76},{"t":2015.5,"s":"2 years ahead","v":1.76},
{"t":2008,"s":"5 years ahead","v":2.09},{"t":2008.25,"s":"5 years ahead","v":2.13},{"t":2008.5,"s":"5 years ahead","v":2.08},{"t":2008.75,"s":"5 years ahead","v":2.05},
{"t":2009,"s":"5 years ahead","v":1.97},{"t":2009.25,"s":"5 years ahead","v":1.94},{"t":2009.5,"s":"5 years ahead","v":1.92},{"t":2009.75,"s":"5 years ahead","v":1.91},
{"t":2010,"s":"5 years ahead","v":1.84},{"t":2010.25,"s":"5 years ahead","v":1.84},{"t":2010.5,"s":"5 years ahead","v":1.85},{"t":2010.75,"s":"5 years ahead","v":1.82},
{"t":2011,"s":"5 years ahead","v":1.92},{"t":2011.25,"s":"5 years ahead","v":1.89},{"t":2011.5,"s":"5 years ahead","v":1.87},{"t":2011.75,"s":"5 years ahead","v":1.82},
{"t":2012,"s":"5 years ahead","v":1.77},{"t":2012.25,"s":"5 years ahead","v":1.80},{"t":2012.5,"s":"5 years ahead","v":1.81},{"t":2012.75,"s":"5 years ahead","v":1.76},
{"t":2013,"s":"5 years ahead","v":1.76},{"t":2013.25,"s":"5 years ahead","v":1.76},{"t":2013.5,"s":"5 years ahead","v":1.73},{"t":2013.75,"s":"5 years ahead","v":1.70},
{"t":2014,"s":"5 years ahead","v":1.76},{"t":2014.25,"s":"5 years ahead","v":1.76},{"t":2014.5,"s":"5 years ahead","v":1.76},{"t":2014.75,"s":"5 years ahead","v":1.72},
{"t":2015,"s":"5 years ahead","v":1.71},{"t":2015.25,"s":"5 years ahead","v":1.71},{"t":2015.5,"s":"5 years ahead","v":1.70}
]
},
"config": {
 "view": {"stroke": null},
 "font": "Liberation Sans",
 "title": {"font": "Liberation Serif", "fontSize": 26, "fontWeight": "normal", "color": "#000000", "anchor": "middle", "baseline": "alphabetic", "offset": 27},
 "axis": {"domainColor": "#000000", "domainWidth": 1, "tickColor": "#000000", "tickWidth": 1, "tickSize": 4, "labelColor": "#000000", "labelFont": "Liberation Sans", "gridColor": "#e2eaee", "gridWidth": 1},
 "axisX": {"grid": false, "labelFontSize": 12, "labelPadding": 3},
 "axisY": {"grid": true, "labelFontSize": 11, "labelAngle": -90, "labelAlign": "center", "labelBaseline": "bottom", "labelPadding": 3.3},
 "legend": {"strokeColor": "#000000", "strokeWidth": 1, "padding": 5, "labelFont": "Liberation Sans", "labelFontSize": 12, "labelColor": "#000000", "labelLimit": 300, "symbolSize": 196, "symbolStrokeWidth": 1.2, "symbolOffset": 12.5, "labelOffset": 22.3, "rowPadding": 2.4, "columnPadding": 20}
}
}
